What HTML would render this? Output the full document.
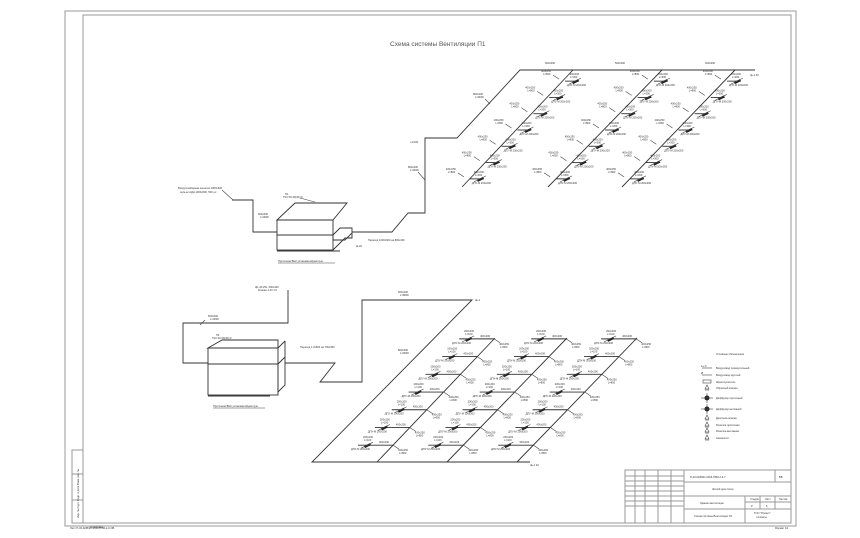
<!DOCTYPE html>
<html><head><meta charset="utf-8">
<style>
html,body{margin:0;padding:0;background:#fff;}
svg{display:block;font-family:"Liberation Sans","DejaVu Sans",sans-serif;}
.l{stroke:#333;stroke-width:0.9;fill:none;}
.t{stroke:#444;stroke-width:0.6;fill:none;}
.f{stroke:#999;stroke-width:1;fill:none;}
.s{font-size:2.6px;fill:#333;}
</style></head><body>
<svg id="d" width="860" height="538" viewBox="0 0 860 538" xmlns="http://www.w3.org/2000/svg">
<!-- frames -->
<rect x="65" y="11" width="731" height="515" class="f"/>
<rect x="83" y="15" width="708" height="508" class="f" stroke-width="1.3"/>
<rect x="72" y="450" width="11" height="73" class="f" stroke-width="0.6"/>
<line x1="72" y1="474" x2="83" y2="474" class="f" stroke-width="0.6"/>
<line x1="72" y1="500" x2="83" y2="500" class="f" stroke-width="0.6"/>
<text class="s" transform="translate(79,518) rotate(-90)">Инв. № подл.   Подп. и дата   Взам. инв. №</text>
<text x="390" y="46" font-size="6.5" fill="#555">Схема системы Вентиляции П1</text>

<!-- top system -->
<polyline class="l" points="232,200 240,200 253,200 253,232 277,232"/>
<text class="s" x="178" y="189">Воздухозаборная решетка 1000x600</text>
<text class="s" x="180" y="193">шум-ки АДН 1000x600, 500 шт</text>
<line class="t" x1="222" y1="190" x2="233" y2="200"/>
<text class="s" x="258" y="215">600x400</text><text class="s" x="260" y="218">L=3000</text>
<!-- box top -->
<polygon class="l" points="277,220 295,203 347,203 333,220"/>
<rect class="l" x="277" y="220" width="56" height="15"/>
<rect class="l" x="277" y="235" width="56" height="15"/>
<polygon class="l" points="333,235 340,228 352,228 352,233 345,240 333,240"/>
<polyline class="l" points="333,250 345,238 352,238 352,233"/>
<line class="l" x1="277" y1="251" x2="340" y2="251"/>
<text class="s" x="285" y="195">П1</text><text class="s" x="283" y="198">ТКС 50-30(40) R</text>
<line class="t" x1="300" y1="198" x2="315" y2="202"/>
<text class="s" x="278" y="262">Приточная ВНК установка Шумоглуш.</text>
<line class="t" x1="278" y1="263" x2="335" y2="263"/>
<text class="s" x="368" y="241">Переход 1000x600 на 800x400</text>
<text class="s" x="356" y="247">ф-20</text>
<polyline class="l" points="352,232 392,232 408,213 425,213 425,138 457,138 520,70 755,70"/>
<text class="s" x="408" y="168">800x400</text><text class="s" x="410" y="171">L=9000</text>
<line class="t" x1="418" y1="172" x2="425" y2="180"/>
<text class="s" x="410" y="143">+3,000</text>
<text class="s" x="473" y="95">800x400</text><text class="s" x="475" y="98">L=9000</text>
<line class="t" x1="485" y1="99" x2="490" y2="104"/>
<text class="s" x="545" y="64">600x300</text><text class="s" x="615" y="64">500x300</text><text class="s" x="705" y="64">400x300</text>
<text class="s" x="750" y="76">ф+1 40</text>

<!-- bottom system -->
<polyline class="l" points="288,290 288,323 183,323 183,363 208,363"/>
<text class="s" x="255" y="288">ф1-40 25x, 600x400</text>
<text class="s" x="258" y="291">Клапан 1-40 1.0</text>
<text class="s" x="208" y="317">600x400</text><text class="s" x="210" y="320">L=3000</text>
<line class="t" x1="205" y1="320" x2="200" y2="325"/>
<polygon class="l" points="208,348 222,340 278,340 278,348"/>
<rect class="l" x="208" y="348" width="70" height="16"/>
<rect class="l" x="208" y="364" width="70" height="31"/>
<polygon class="l" points="278,364 285,357 285,385 278,392"/>
<line class="l" x1="278" y1="348" x2="285" y2="341"/><line class="l" x1="285" y1="341" x2="285" y2="357"/>
<line class="l" x1="208" y1="396" x2="270" y2="396"/>
<text class="s" x="216" y="336">П2</text><text class="s" x="212" y="339">ТКС 50-30(40) R</text>
<text class="s" x="213" y="407">Приточная ВНК установка Шумоглуш.</text>
<line class="t" x1="213" y1="408" x2="265" y2="408"/>
<text class="s" x="300" y="348">Переход 1.0x600 на 700x350</text>
<polyline class="l" points="285,363 335,363 320,382 362,382 362,300 472,300 312,462 530,462"/>
<text class="s" x="398" y="293">500x400</text><text class="s" x="400" y="296">L=8000</text>
<text class="s" x="398" y="351">800x400</text><text class="s" x="400" y="354">L=9000</text>
<text class="s" x="475" y="301">ф+1</text>
<text class="s" x="530" y="466">ф+1 20</text>

<!-- legend -->
<text class="s" x="716" y="355">Условные обозначения</text>
<g id="leg"></g>

<!-- title block -->
<g class="f" stroke-width="0.7">
<rect x="625" y="470" width="166" height="53"/>
<line x1="625" y1="476" x2="684" y2="476"/>
<line x1="625" y1="481" x2="684" y2="481"/>
<line x1="625" y1="486" x2="684" y2="486"/>
<line x1="625" y1="491" x2="684" y2="491"/>
<line x1="625" y1="496" x2="684" y2="496"/>
<line x1="625" y1="501" x2="684" y2="501"/>
<line x1="625" y1="506" x2="684" y2="506"/>
<line x1="684" y1="470" x2="684" y2="523"/>
<line x1="684" y1="482" x2="791" y2="482"/>
<line x1="684" y1="496" x2="791" y2="496"/>
<line x1="684" y1="509" x2="791" y2="509"/>
<line x1="745" y1="496" x2="745" y2="523"/>
<line x1="745" y1="502" x2="791" y2="502"/>
<line x1="760" y1="496" x2="760" y2="509"/>
<line x1="775" y1="496" x2="775" y2="509"/>
<line x1="635" y1="470" x2="635" y2="523"/>
<line x1="645" y1="470" x2="645" y2="523"/>
<line x1="658" y1="470" x2="658" y2="523"/>
<line x1="671" y1="470" x2="671" y2="523"/>
<line x1="775" y1="470" x2="775" y2="482"/>
</g>
<text class="s" x="690" y="478" font-size="3.5">П-03-02/ВЭС-2016-ПЗМ-2-3-7</text>
<text class="s" x="779" y="478" font-size="3.5">ВВ</text>
<text class="s" x="712" y="490">Жилой дом литер</text>
<text class="s" x="700" y="504">Здание вентиляции</text>
<text class="s" x="694" y="517">Схема системы Вентиляции П1</text>
<text class="s" x="750" y="500">Стадия</text><text class="s" x="765" y="500">Лист</text><text class="s" x="779" y="500">Листов</text>
<text class="s" x="751" y="507">Р</text><text class="s" x="766" y="507">5</text>
<text class="s" x="754" y="514">ТОО "Проект"</text><text class="s" x="756" y="518">г.Алматы</text>
<text class="s" x="90" y="528">Копировал</text>
<text class="s" x="70" y="529">Лист П-03-02/ВЭС-2016-ПЗМ-2-3-ОВ</text>
<text class="s" x="775" y="529">Формат А3</text>
</svg>
<script>
var svg=document.getElementById('d'),NS='http://www.w3.org/2000/svg';
function el(n,a,t){var e=document.createElementNS(NS,n);for(var k in a)e.setAttribute(k,a[k]);if(t)e.textContent=t;svg.appendChild(e);return e;}
function line(x1,y1,x2,y2,c){el('line',{x1:x1,y1:y1,x2:x2,y2:y2,'class':c||'l'});}
function txt(x,y,s){el('text',{x:x,y:y,'class':'s'},s);}
function diff(x,y){ // diffuser symbol
  el('polygon',{points:(x-3)+','+(y+1)+' '+(x+3)+','+(y-2)+' '+(x+4)+','+(y)+' '+(x-2)+','+(y+3),fill:'#222'});
  line(x-6,y+3,x+6,y-3,'t');
}
// top risers
var tops=[[573,73,462,187],[662,73,548,187],[735,73,622,187]];
tops.forEach(function(r){
  line(r[0],70,r[2],r[3]);
  for(var i=0;i<7;i++){
    var f=(i+0.5)/7,x=r[0]+(r[2]-r[0])*f,y=73+(r[3]-73)*f;
    line(x,y,x+14,y);diff(x+10,y);
    txt(x+4,y-6,'400x200');txt(x+5,y-3,'L=300');
    txt(x+2,y+5,'ДПУ-М 200x200');
    txt(x-24,y-9,'400x250');txt(x-22,y-6,'L=800');
    line(x-12,y-6,x-6,y-2,'t');
  }
});
// bottom risers
var bots=[[495,338,377,462],[567,338,447,462],[637,338,517,462]];
bots.forEach(function(r){
  line(r[0],r[1],r[2],r[3]);
  for(var i=0;i<7;i++){
    var f=(i+0.05)/7,x=r[0]+(r[2]-r[0])*f,y=r[1]+(r[3]-r[1])*f;
    line(x-35,y,x,y);diff(x-26,y);
    txt(x-30,y-7,'200x200');txt(x-29,y-4,'L=100');
    txt(x-42,y+5,'ДПУ-М 200x200');
    txt(x-14,y-2,'400x200');
    txt(x+5,y+6,'400x250');txt(x+6,y+9,'L=800');
    line(x,y,x+6,y+4,'t');
  }
});
// legend
var items=['Воздуховод прямоугольный','Воздуховод круглый','Шумоглушитель','Обратный клапан','Диффузор приточный','Диффузор вытяжной','Дроссель-клапан','Решетка приточная','Решетка вытяжная','Анемостат'];
var ys=[368,375,382,388,398,409,418,425,431,438];
items.forEach(function(s,i){
  var y=ys[i];
  if(i==4||i==5){el('circle',{cx:707,cy:y,r:2.5,fill:'#222'});line(701,y,713,y,'t');line(707,y-5,707,y+5,'t');}
  else if(i==2){el('rect',{x:703,y:y-2,width:8,height:3,'class':'t'});}
  else if(i<2){line(702,y,712,y,'t');txt(701,y-1,i?'Ø':'a x b');}
  else {el('polygon',{points:'705,'+(y+1)+' 707,'+(y-3)+' 709,'+(y+1),'class':'t'});line(705,y+2,709,y+2,'t');}
  txt(716,y+1,s);
});
</script>
</body></html>
